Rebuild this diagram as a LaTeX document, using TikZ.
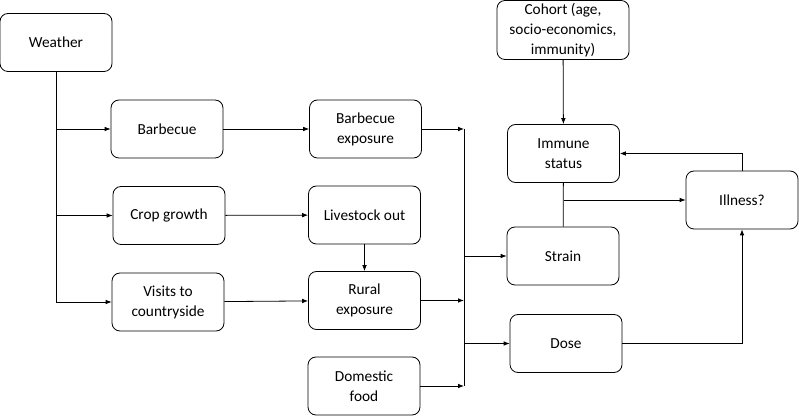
\documentclass[tikz,border=0pt]{standalone}
\usepackage{fontspec}
\setmainfont{Carlito}
\usetikzlibrary{arrows.meta}
\begin{document}
\begin{tikzpicture}[x=0.75pt,y=-0.75pt,
    box/.style={draw, rounded corners=6pt, line width=0.6pt, minimum width=84pt,
      minimum height=43.5pt, align=center, inner sep=2pt,
      font=\fontsize{11.5}{15}\selectfont},
    >={Latex[length=4.5pt,width=3.5pt]}, line width=0.6pt]
    \useasboundingbox (0,0) rectangle (799,416);
    \node[box] (weather) at (56,42.5) {Weather};
    \node[box] (barbecue) at (167,129) {Barbecue};
    \node[box] (crop) at (169,215.5) {Crop growth};
    \node[box] (visits) at (168,302) {Visits to\\countryside};
    \node[box] (bbqexp) at (365.5,129) {Barbecue\\exposure};
    \node[box] (livestock) at (364.5,215) {Livestock out};
    \node[box] (rural) at (364.5,300.5) {Rural\\exposure};
    \node[box] (food) at (364,386) {Domestic\\food};
    \node[box, minimum width=99pt] (cohort) at (563,30) {Cohort (age,\\socio-economics,\\immunity)};
    \node[box] (immune) at (563.5,153.5) {Immune\\status};
    \node[box] (strain) at (563,256) {Strain};
    \node[box] (dose) at (566,343.5) {Dose};
    \node[box] (illness) at (742,200) {Illness?};
    \coordinate (junc) at (464,129);
    % weather branches
    \draw[->] (weather.south) |- (visits);
    \draw[->] (weather.south |- barbecue) -- (barbecue);
    \draw[->] (weather.south |- crop) -- (crop);
    \draw[->] (barbecue) -- (bbqexp);
    \draw[->] (crop) -- (livestock);
    \draw[->] (visits) -- (rural);
    \draw[->] (livestock) -- (rural);
    % exposures join
    \draw[->] (bbqexp) -- (junc);
    \draw[->] (rural) -- (rural -| junc);
    \draw[->] (food) -- (food -| junc);
    \draw (junc) -- (junc |- food);
    \draw[->] (junc |- strain) -- (strain);
    \draw[->] (junc |- dose) -- (dose);
    % host side
    \draw[->] (cohort) -- (immune);
    \draw (immune) -- (strain);
    \draw[->] (immune.south |- illness) -- (illness);
    \draw[->] (illness) |- (immune);
    \draw[->] (dose) -| (illness);
\end{tikzpicture}
\end{document}
